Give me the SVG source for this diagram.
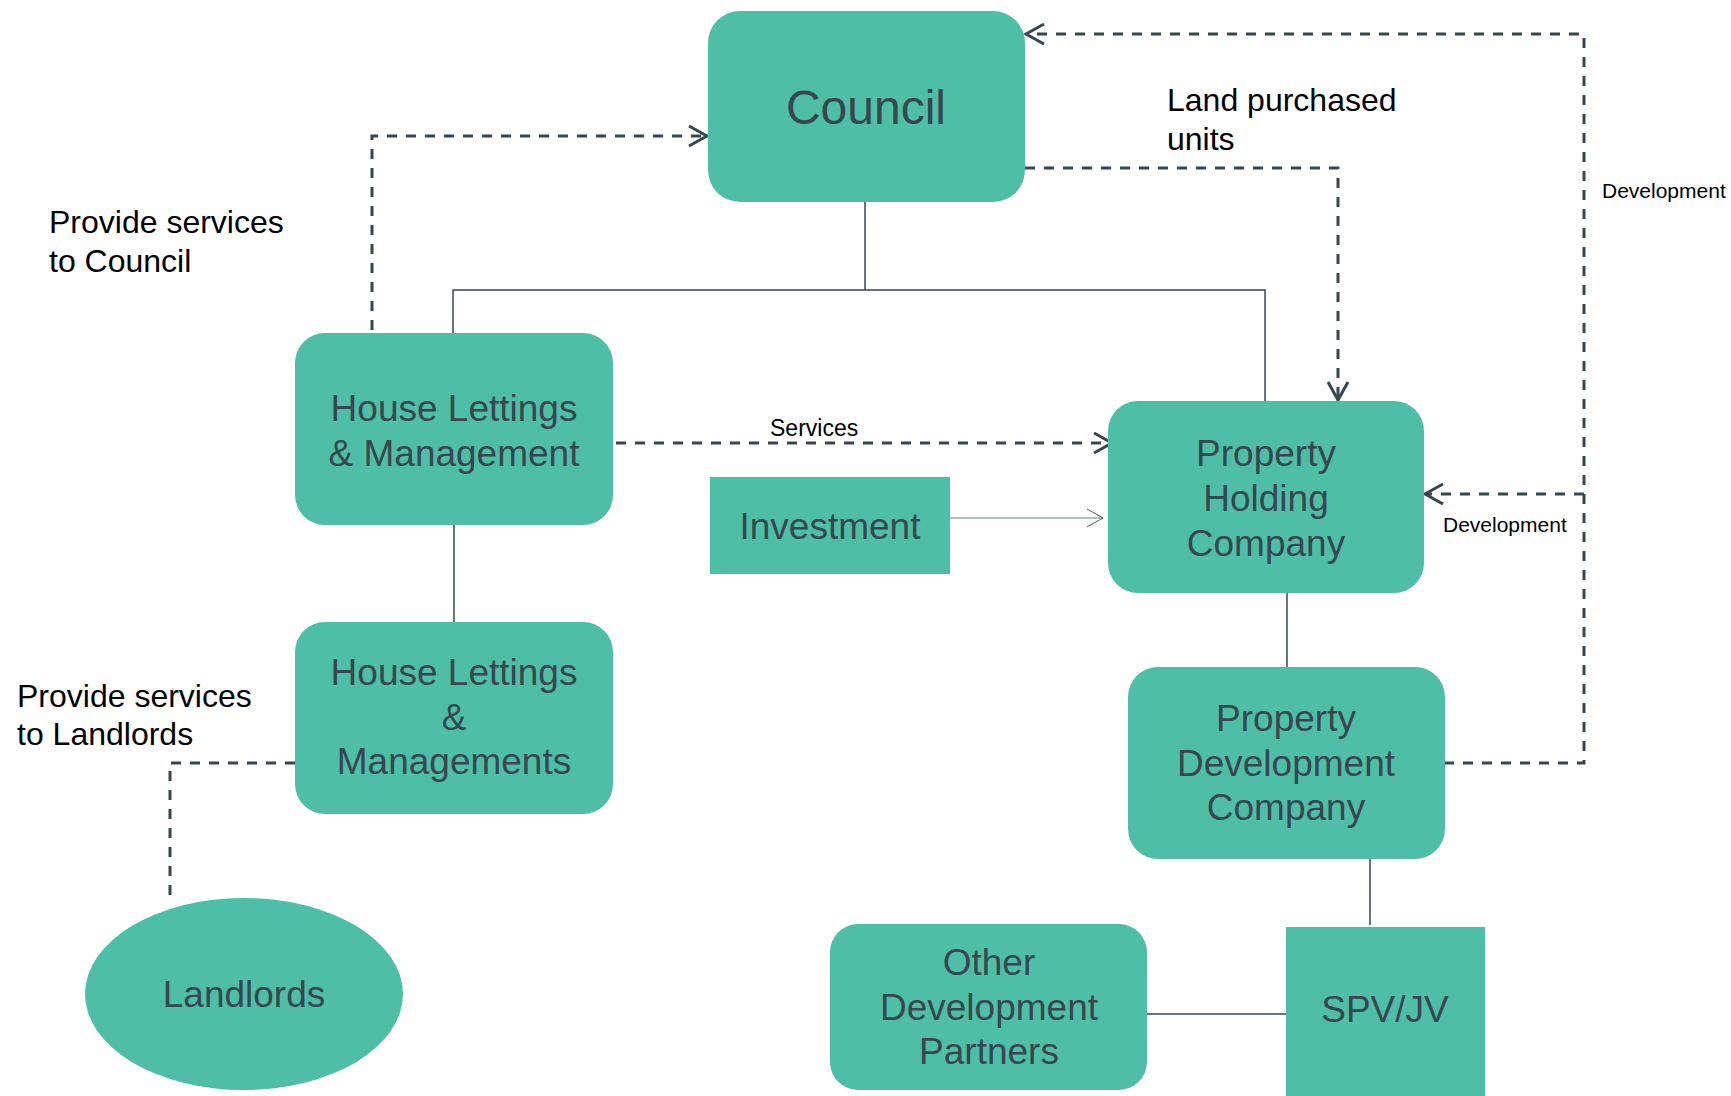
<svg xmlns="http://www.w3.org/2000/svg" width="1731" height="1096" viewBox="0 0 1731 1096">
<style>
.node{fill:#4ebfa6;}
.nt{font-family:"Liberation Sans",Arial,sans-serif;fill:#37474f;text-anchor:middle;font-size:37px;}
.big{font-size:48px;}
.lbl{font-family:"Liberation Sans",Arial,sans-serif;fill:#000;}
.dash{fill:none;stroke:#37474f;stroke-width:3;stroke-dasharray:10 9;}
.solid{fill:none;stroke:#37474f;stroke-width:1.5;}
</style>
<defs>
<marker id="arr" markerUnits="userSpaceOnUse" markerWidth="22" markerHeight="24" refX="19" refY="11" orient="auto" viewBox="0 0 22 24">
<path d="M1,1 L19,11 L1,21" fill="none" stroke="#37474f" stroke-width="3"/>
</marker>
<marker id="arrThin" markerUnits="userSpaceOnUse" markerWidth="20" markerHeight="22" refX="17" refY="10" orient="auto" viewBox="0 0 20 22">
<path d="M1,1 L17,10 L1,19" fill="none" stroke="#4d5f63" stroke-width="1"/>
</marker>
</defs>
<rect width="1731" height="1096" fill="#ffffff"/>
<g id="connectors">
<path class="solid" d="M865,201 V290"/>
<path class="solid" d="M453,333 V290 H1265 V401"/>
<path class="solid" d="M454,525 V622"/>
<path class="solid" d="M1287,592 V667"/>
<path class="solid" d="M1370,858 V925"/>
<path class="solid" d="M1147,1014 H1286"/>
<path d="M950,518 H1103" fill="none" stroke="#9aa8ab" stroke-width="1.5" marker-end="url(#arrThin)"/>
<path class="dash" d="M372,330 V136 H707" marker-end="url(#arr)"/>
<path class="dash" d="M1025,168 H1338 V400" marker-end="url(#arr)"/>
<path class="dash" d="M1444,763 H1584 V34 H1026" marker-end="url(#arr)"/>
<path class="dash" d="M1584,494 H1425" marker-end="url(#arr)"/>
<path class="dash" d="M616,443 H1112" marker-end="url(#arr)"/>
<path class="dash" d="M295,763 H170 V898"/>
</g>
<g id="council">
<rect class="node" x="708" y="11" width="317" height="191" rx="32"/>
<text class="nt big" x="866" y="124">Council</text>
</g>
<g id="hlm">
<rect class="node" x="295" y="333" width="318" height="192" rx="30"/>
<text class="nt" x="454" y="421">House Lettings</text>
<text class="nt" x="454" y="466">&amp; Management</text>
</g>
<g id="hlm2">
<rect class="node" x="295" y="622" width="318" height="192" rx="30"/>
<text class="nt" x="454" y="685">House Lettings</text>
<text class="nt" x="454" y="730">&amp;</text>
<text class="nt" x="454" y="774">Managements</text>
</g>
<g id="landlords">
<ellipse class="node" cx="244" cy="994" rx="159" ry="96"/>
<text class="nt" x="244" y="1007">Landlords</text>
</g>
<g id="investment">
<rect class="node" x="710" y="477" width="240" height="97"/>
<text class="nt" x="830" y="539">Investment</text>
</g>
<g id="phc">
<rect class="node" x="1108" y="401" width="316" height="192" rx="30"/>
<text class="nt" x="1266" y="466">Property</text>
<text class="nt" x="1266" y="511">Holding</text>
<text class="nt" x="1266" y="556">Company</text>
</g>
<g id="pdc">
<rect class="node" x="1128" y="667" width="317" height="192" rx="30"/>
<text class="nt" x="1286" y="731">Property</text>
<text class="nt" x="1286" y="776">Development</text>
<text class="nt" x="1286" y="820">Company</text>
</g>
<g id="odp">
<rect class="node" x="830" y="924" width="317" height="166" rx="28"/>
<text class="nt" x="989" y="975">Other</text>
<text class="nt" x="989" y="1020">Development</text>
<text class="nt" x="989" y="1064">Partners</text>
</g>
<g id="spv">
<rect class="node" x="1286" y="927" width="199" height="169"/>
<text class="nt" x="1385" y="1022">SPV/JV</text>
</g>
<g id="labels">
<text class="lbl" x="49" y="233" font-size="32">Provide services</text>
<text class="lbl" x="49" y="272" font-size="32">to Council</text>
<text class="lbl" x="1167" y="111" font-size="32">Land purchased</text>
<text class="lbl" x="1167" y="150" font-size="32">units</text>
<text class="lbl" x="17" y="707" font-size="32">Provide services</text>
<text class="lbl" x="17" y="745" font-size="32">to Landlords</text>
<text class="lbl" x="770" y="436" font-size="23">Services</text>
<text class="lbl" x="1602" y="198" font-size="21">Development</text>
<text class="lbl" x="1443" y="532" font-size="21">Development</text>
</g>
</svg>
